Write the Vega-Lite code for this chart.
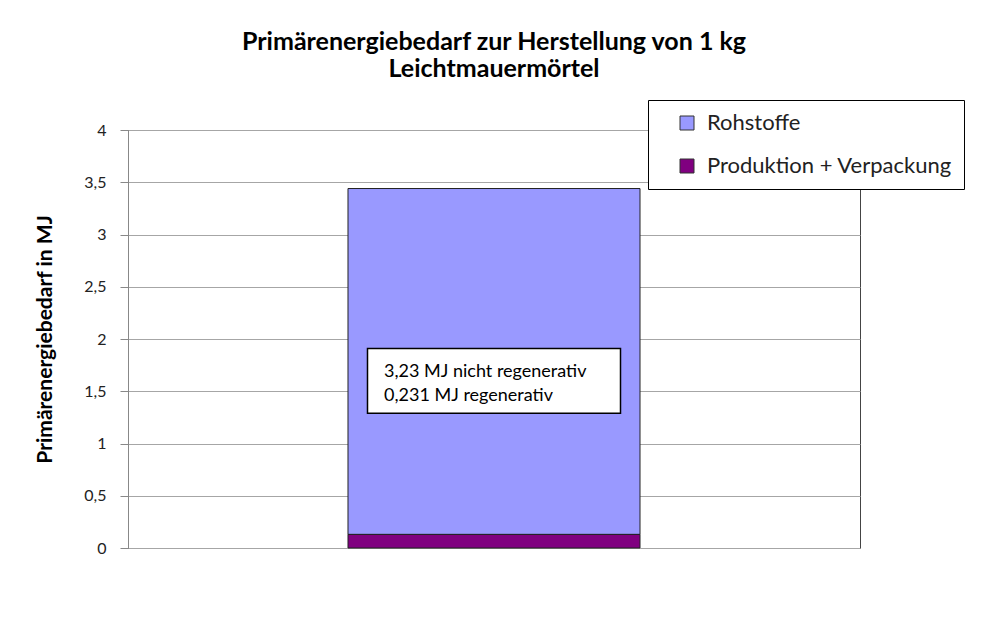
{
  "$schema": "https://vega.github.io/schema/vega-lite/v6.json",
  "autosize": {"type": "none"},
  "width": 732,
  "height": 418,
  "padding": {"left": 128, "top": 130, "right": 143, "bottom": 93},
  "background": "white",
  "title": {
    "text": ["Primärenergiebedarf zur Herstellung von 1 kg", "Leichtmauermörtel"],
    "font": "Lato",
    "fontSize": 25,
    "fontWeight": "bold",
    "color": "#000000",
    "anchor": "middle",
    "frame": "group",
    "baseline": "bottom",
    "lineHeight": 27,
    "offset": -7
  },
  "config": {
    "view": {"stroke": "#444444", "strokeWidth": 1},
    "axis": {"labelFont": "Lato", "titleFont": "Lato"}
  },
  "layer": [
    {
      "data": {
        "values": [
          {"material": "Leichtmauermörtel", "component": "Rohstoffe", "value": 3.31},
          {"material": "Leichtmauermörtel", "component": "Produktion + Verpackung", "value": 0.13}
        ]
      },
      "mark": {"type": "bar", "stroke": "#222222", "strokeWidth": 1},
      "encoding": {
        "x": {
          "field": "material",
          "type": "nominal",
          "axis": null,
          "scale": {"paddingInner": 0, "paddingOuter": 0.7534}
        },
        "y": {
          "field": "value",
          "type": "quantitative",
          "stack": "zero",
          "scale": {"domain": [0, 4], "nice": false},
          "axis": {
            "values": [0, 0.5, 1, 1.5, 2, 2.5, 3, 3.5, 4],
            "labelExpr": "replace(toString(datum.value), '.', ',')",
            "title": "Primärenergiebedarf in MJ",
            "titleFontSize": 21,
            "titleFontWeight": "bold",
            "titleColor": "#000000",
            "titleX": -83,
            "titleY": 209,
            "titleAngle": -90,
            "titleBaseline": "middle",
            "titleAlign": "center",
            "labelFontSize": 16,
            "labelColor": "#222222",
            "labelPadding": 14,
            "tickSize": 8,
            "tickColor": "#888888",
            "domainColor": "#888888",
            "gridColor": "#a6a6a6",
            "grid": true
          }
        },
        "color": {
          "field": "component",
          "type": "nominal",
          "scale": {
            "domain": ["Rohstoffe", "Produktion + Verpackung"],
            "range": ["#9999FF", "#800080"]
          },
          "legend": {
            "title": null,
            "orient": "none",
            "legendX": 520,
            "legendY": -30,
            "strokeColor": "#000000",
            "fillColor": "#ffffff",
            "padding": 12,
            "symbolOffset": 16,
            "symbolType": "square",
            "symbolSize": 196,
            "symbolStrokeColor": "#333333",
            "symbolStrokeWidth": 1,
            "labelFont": "Lato",
            "labelFontSize": 22,
            "labelColor": "#222222",
            "labelOffset": 9,
            "labelLimit": 400,
            "rowPadding": 21
          }
        },
        "order": {"field": "component", "sort": "ascending"}
      }
    },
    {
      "data": {
        "values": [
          {"material": "Leichtmauermörtel", "lo": 1.29, "hi": 1.91, "textY": 1.68, "note": "3,23 MJ nicht regenerativ\n0,231 MJ regenerativ"}
        ]
      },
      "layer": [
        {
          "mark": {"type": "bar", "width": 253, "fill": "#ffffff", "stroke": "#000000", "strokeWidth": 1.5},
          "encoding": {
            "x": {"field": "material", "type": "nominal"},
            "y": {"field": "lo", "type": "quantitative"},
            "y2": {"field": "hi"}
          }
        },
        {
          "mark": {"type": "text", "align": "left", "baseline": "middle", "dx": -110, "font": "Lato", "fontSize": 18, "lineHeight": 24, "lineBreak": "\n", "color": "#000000"},
          "encoding": {
            "x": {"field": "material", "type": "nominal"},
            "y": {"field": "textY", "type": "quantitative"},
            "text": {"field": "note"}
          }
        }
      ]
    }
  ]
}
